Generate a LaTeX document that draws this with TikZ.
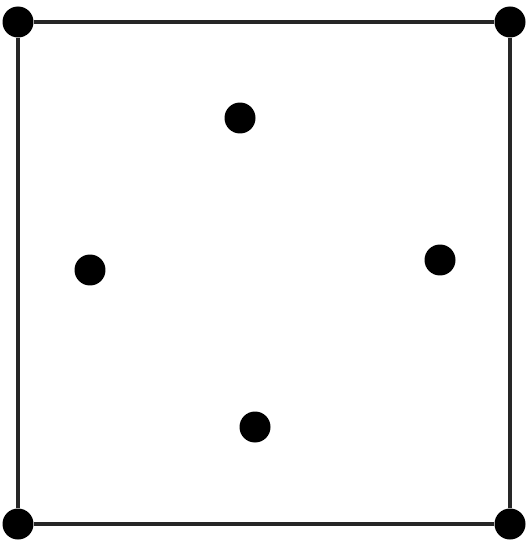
\documentclass[tikz,border=0pt]{standalone}
\usepackage{tikz}
\usetikzlibrary{positioning}
\tikzset{
  dot/.style={
    circle, fill=black, draw=none, minimum size=0.62cm, inner sep=0pt
  },
  edge/.style={line width=1.8pt, color=black!85}
}

\begin{document}
\begin{tikzpicture}[x=0.02cm, y=-0.02cm]
  \useasboundingbox (0,0) rectangle (526,550);

  \node[dot] (tl) at (18,22) {};
  \node[dot] (tr) at (510,22) {};
  \node[dot] (br) at (510,524) {};
  \node[dot] (bl) at (18,524) {};

  \node[dot] (top) at (240,118) {};
  \node[dot] (left) at (90,270) {};
  \node[dot] (right) at (440,260) {};
  \node[dot] (bottom) at (255,427) {};

  \draw[edge] (tl) -- (tr);
  \draw[edge] (tr) -- (br);
  \draw[edge] (br) -- (bl);
  \draw[edge] (bl) -- (tl);
\end{tikzpicture}
\end{document}
